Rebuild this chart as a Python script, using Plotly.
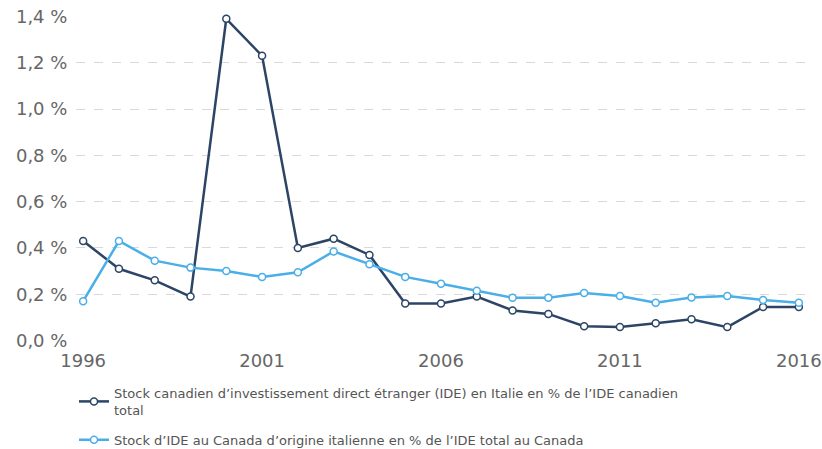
import plotly.graph_objects as go

years = list(range(1996, 2017))
canada_in_italy = [0.43, 0.31, 0.26, 0.19, 1.39, 1.23, 0.40, 0.44, 0.37, 0.16, 0.16,
                   0.19, 0.13, 0.115, 0.062, 0.058, 0.075, 0.092, 0.058, 0.145, 0.145]
italy_in_canada = [0.17, 0.43, 0.345, 0.315, 0.30, 0.275, 0.295, 0.385, 0.33, 0.275, 0.245,
                   0.215, 0.185, 0.185, 0.205, 0.192, 0.163, 0.186, 0.192, 0.175, 0.163]
names = ["Stock canadien d’investissement direct étranger (IDE) en Italie en % de l’IDE canadien<br>total",
         "Stock d’IDE au Canada d’origine italienne en % de l’IDE total au Canada"]
y_tickvals = [0, 0.2, 0.4, 0.6, 0.8, 1.0, 1.2, 1.4]
y_ticktext = ["0,0 %", "0,2 %", "0,4 %", "0,6 %", "0,8 %", "1,0 %", "1,2 %", "1,4 %"]
x_tickvals = [1996, 2001, 2006, 2011, 2016]

colors = ["#2c4566", "#4aaee8"]
series = [canada_in_italy, italy_in_canada]

fig = go.Figure()
for i, (vals, name, col) in enumerate(zip(series, names, colors)):
    fig.add_trace(go.Scatter(
        x=years, y=vals, name=name, mode="lines+markers", legendgroup=f"g{i}",
        line=dict(color=col, width=2.5),
        marker=dict(size=7, color="white", line=dict(color=col, width=1.5)),
        cliponaxis=False,
    ))

W, H = 822, 449
plot_top, plot_bottom, plot_left, plot_right = 16, 341, 76, 806
ph = plot_bottom - plot_top
pw = plot_right - plot_left

fig.update_layout(
    width=W, height=H,
    margin=dict(l=plot_left, r=W - plot_right, t=plot_top, b=H - plot_bottom, autoexpand=False),
    plot_bgcolor="white", paper_bgcolor="white",
    font=dict(family="DejaVu Sans", color="#666666"),
    showlegend=True,
    legend=dict(orientation="v",
                x=(74 - plot_left) / pw, y=(plot_bottom - 378) / ph,
                xanchor="left", yanchor="top",
                font=dict(size=13, color="#555555"), tracegroupgap=10),
    xaxis=dict(range=[1995.8, 2016.2], tickvals=x_tickvals, showgrid=False, automargin=False,
               zeroline=False, showline=False, tickfont=dict(size=18, color="#666666"),
               ticks="outside", ticklen=3, tickcolor="rgba(0,0,0,0)",
               ticklabeloverflow="allow"),
    yaxis=dict(range=[-0.002, 1.402], tickvals=y_tickvals, ticktext=y_ticktext, automargin=False,
               showgrid=True, gridcolor="#d9d9d9", griddash="dash", gridwidth=1,
               zeroline=False, showline=False, tickfont=dict(size=18, color="#666666"),
               ticks="outside", ticklen=4, tickcolor="rgba(0,0,0,0)",
               ticklabeloverflow="allow"),
)

# remove the browser's default 8px body margin so the figure fills the window
fig.write_html("out.html", config={"displayModeBar": False},
               post_script="document.body.style.margin='0';document.body.style.overflow='hidden';")
